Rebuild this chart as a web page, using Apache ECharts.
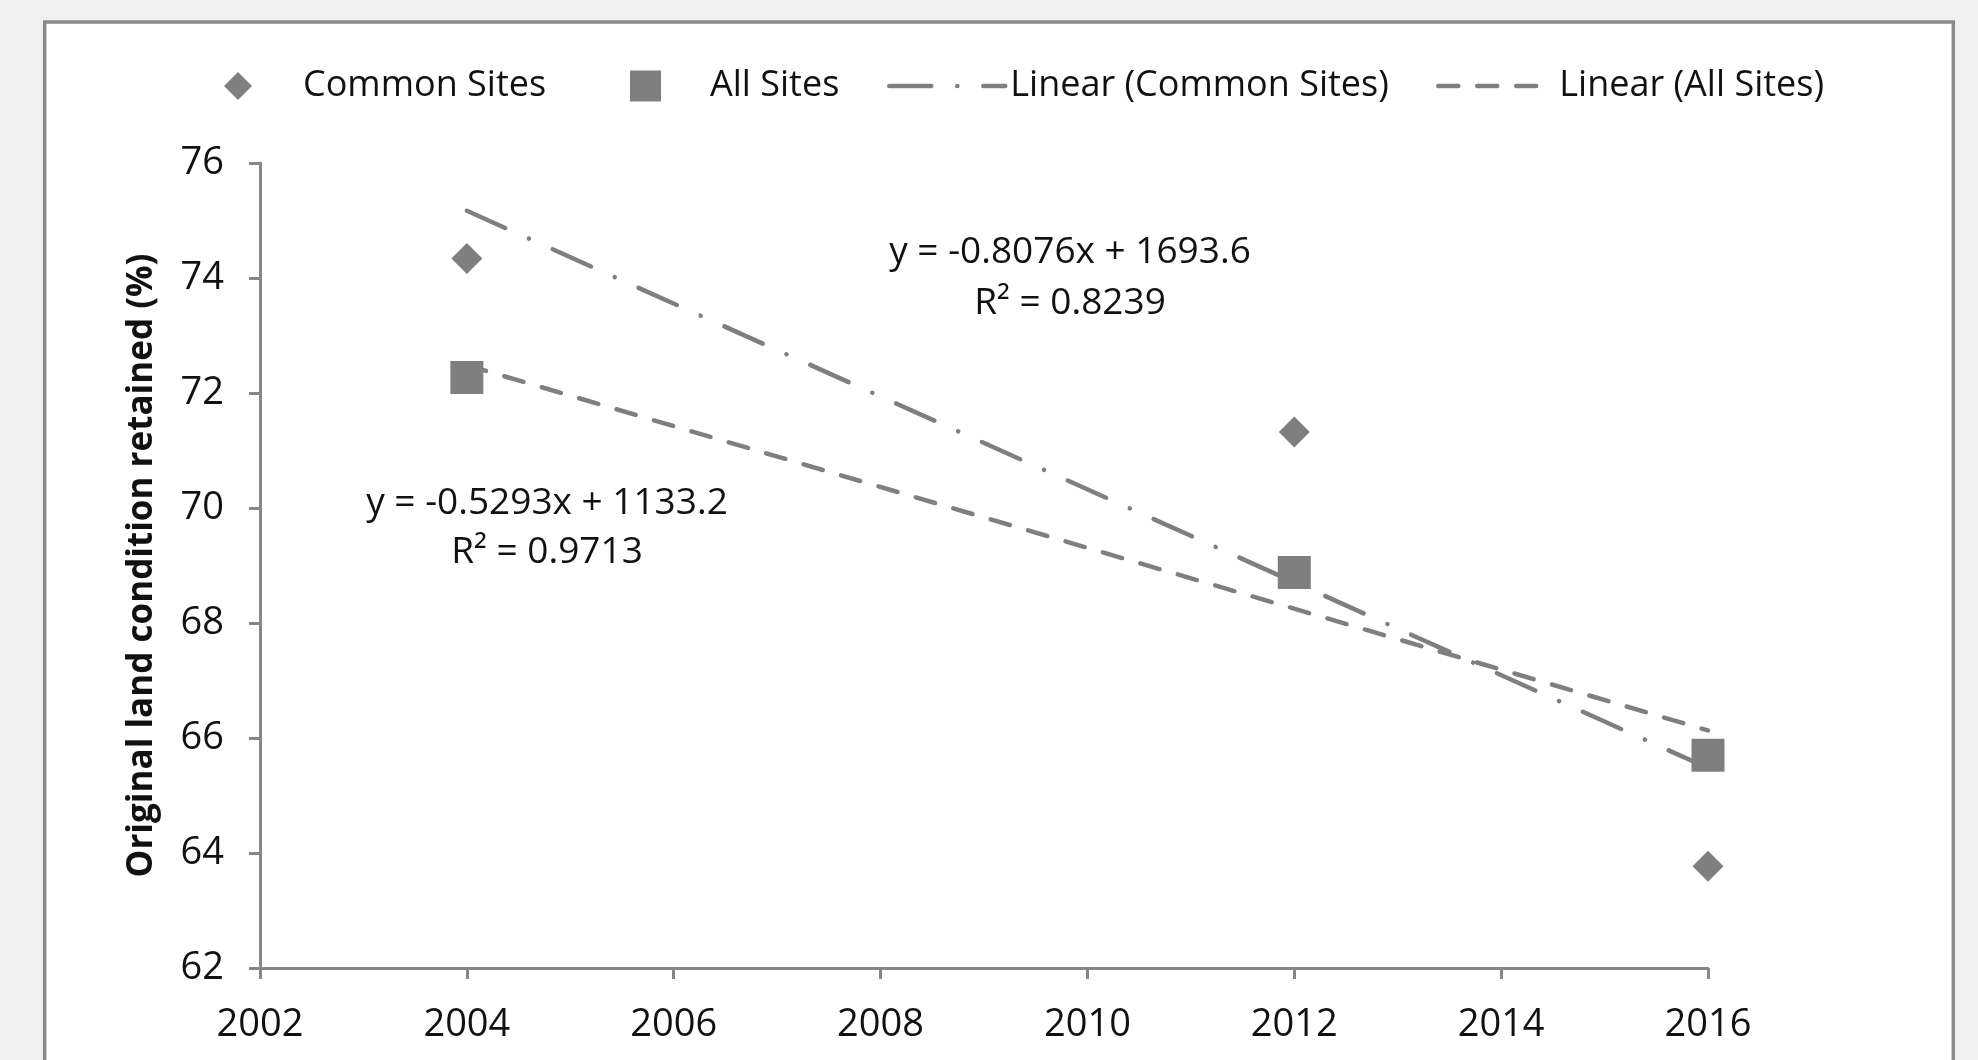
<!DOCTYPE html>
<html>
<head>
<meta charset="utf-8">
<script src="https://cdn.jsdelivr.net/npm/echarts@6/dist/echarts.min.js"></script>
<style>
  html, body { margin: 0; padding: 0; background: #f1f1f1; }
  #chart { width: 1978px; height: 1060px; }
</style>
</head>
<body>
<div id="chart"></div>
<script>
// Survey years and the share of original land condition retained (%)
const years = [2004, 2012, 2016];
const commonSites = [74.34, 71.32, 63.77];
const allSites = [72.27, 68.88, 65.70];

// Linear fits: [slope, intercept] and R²
const commonFit = [-0.8076, 1693.6];
const commonR2 = 0.8239;
const allFit = [-0.5293, 1133.2];
const allR2 = 0.9713;

// Axis ranges: [min, max, step]
const xRange = [2002, 2016, 2];
const yRange = [62, 76, 2];

const GREY = '#7f7f7f';
const AXIS = '#878787';
const TEXT = '#111111';
const FONT = '"Open Sans", "Noto Sans", sans-serif';

const pairs = ys => years.map((x, i) => [x, ys[i]]);
const fitLine = f => [years[0], years[years.length - 1]].map(x => [x, f[0] * x + f[1]]);
const eqText = f => 'y = ' + f[0].toFixed(4) + 'x + ' + f[1].toFixed(1);
const r2Text = r => 'R\u00B2 = ' + r.toFixed(4);

const chart = echarts.init(document.getElementById('chart'), null, { renderer: 'canvas' });

const legendBase = {
  top: 68,
  padding: 0,
  orient: 'horizontal',
  selectedMode: false,
  textStyle: { fontFamily: FONT, fontSize: 36, color: TEXT }
};

chart.setOption({
  backgroundColor: '#f1f1f1',
  animation: false,
  grid: { left: 260, right: 270, top: 163, bottom: 92 },
  legend: [
    Object.assign({}, legendBase, {
      left: 224, data: [{ name: 'Common Sites', icon: 'diamond' }],
      itemWidth: 28, itemHeight: 28,
      textStyle: Object.assign({}, legendBase.textStyle, { padding: [0, 0, 0, 46] })
    }),
    Object.assign({}, legendBase, {
      left: 630, data: [{ name: 'All Sites', icon: 'rect' }],
      itemWidth: 31, itemHeight: 31,
      textStyle: Object.assign({}, legendBase.textStyle, { padding: [0, 0, 0, 44] })
    }),
    Object.assign({}, legendBase, {
      left: 887, data: ['Linear (Common Sites)'],
      itemWidth: 116, itemHeight: 20,
      itemStyle: { opacity: 0 },
      lineStyle: { color: GREY, width: 4.5, type: [42, 26, 0.1, 26], cap: 'round' }
    }),
    Object.assign({}, legendBase, {
      left: 1436, data: ['Linear (All Sites)'],
      itemWidth: 116, itemHeight: 20,
      itemStyle: { opacity: 0 },
      lineStyle: { color: GREY, width: 4.5, type: [20, 19], cap: 'round' }
    })
  ],
  xAxis: {
    type: 'value',
    min: xRange[0], max: xRange[1], interval: xRange[2],
    axisLine: { show: true, lineStyle: { color: AXIS, width: 3 } },
    axisTick: { show: true, length: 11, lineStyle: { color: AXIS, width: 3 } },
    splitLine: { show: false },
    axisLabel: {
      margin: 38, fontFamily: FONT, fontSize: 38, color: TEXT,
      formatter: v => String(v)
    }
  },
  yAxis: {
    type: 'value',
    min: yRange[0], max: yRange[1], interval: yRange[2],
    name: 'Original land condition retained (%)',
    nameLocation: 'middle',
    nameRotate: 90,
    nameGap: 100,
    nameTextStyle: { fontFamily: FONT, fontSize: 35, fontWeight: 'bold', color: TEXT },
    axisLine: { show: true, lineStyle: { color: AXIS, width: 3 } },
    axisTick: { show: true, length: 11, lineStyle: { color: AXIS, width: 3 } },
    splitLine: { show: false },
    axisLabel: { margin: 36, fontFamily: FONT, fontSize: 38, color: TEXT }
  },
  graphic: [
    {
      type: 'rect', z: -10, silent: true,
      shape: { x: 44.7, y: 22, width: 1908.6, height: 1100 },
      style: { fill: '#ffffff', stroke: '#8a8a8a', lineWidth: 3.5 }
    },
    {
      type: 'text', x: 1070, y: 252, z: 10,
      style: { text: eqText(commonFit), fontFamily: FONT, fontSize: 37, fill: TEXT, align: 'center', verticalAlign: 'middle' }
    },
    {
      type: 'text', x: 1070, y: 303, z: 10,
      style: { text: r2Text(commonR2), fontFamily: FONT, fontSize: 37, fill: TEXT, align: 'center', verticalAlign: 'middle' }
    },
    {
      type: 'text', x: 547, y: 503, z: 10,
      style: { text: eqText(allFit), fontFamily: FONT, fontSize: 37, fill: TEXT, align: 'center', verticalAlign: 'middle' }
    },
    {
      type: 'text', x: 547, y: 552, z: 10,
      style: { text: r2Text(allR2), fontFamily: FONT, fontSize: 37, fill: TEXT, align: 'center', verticalAlign: 'middle' }
    }
  ],
  series: [
    {
      name: 'Linear (Common Sites)',
      type: 'line', z: 2,
      data: fitLine(commonFit),
      symbol: 'none',
      lineStyle: { color: GREY, width: 4.5, type: [42, 26, 0.1, 26], cap: 'round' },
      itemStyle: { color: GREY }
    },
    {
      name: 'Linear (All Sites)',
      type: 'line', z: 2,
      data: fitLine(allFit),
      symbol: 'none',
      lineStyle: { color: GREY, width: 4.5, type: [20, 19], cap: 'round' },
      itemStyle: { color: GREY }
    },
    {
      name: 'Common Sites',
      type: 'scatter', z: 5,
      data: pairs(commonSites),
      symbol: 'diamond',
      symbolSize: [31, 31],
      itemStyle: { color: GREY, opacity: 1 }
    },
    {
      name: 'All Sites',
      type: 'scatter', z: 5,
      data: pairs(allSites),
      symbol: 'rect',
      symbolSize: [33, 33],
      itemStyle: { color: GREY, opacity: 1, borderRadius: 2 }
    }
  ]
});
</script>
</body>
</html>
